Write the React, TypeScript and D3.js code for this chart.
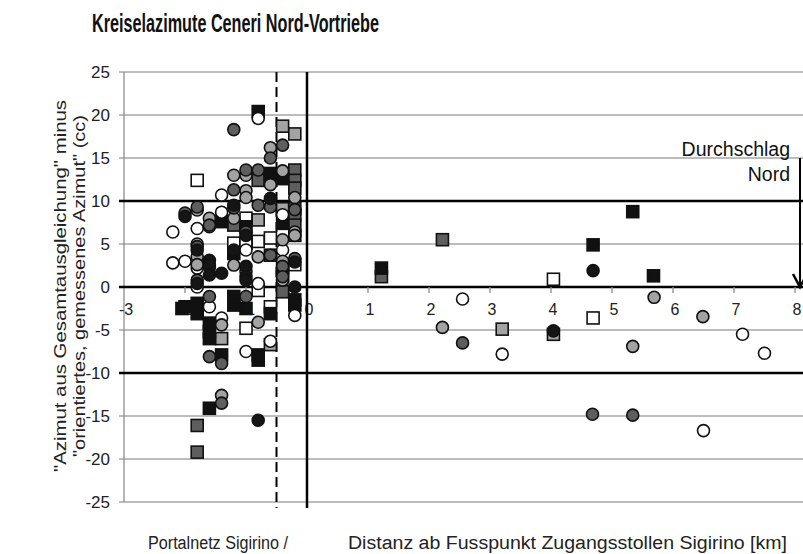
import React from "react";
import * as d3 from "d3";

type Pt = [number, number];

const xTicks = [-3, -2, -1, 0, 1, 2, 3, 4, 5, 6, 7, 8];
const yTicks = [25, 20, 15, 10, 5, 0, -5, -10, -15, -20, -25];
const thickY = [10, 0, -10];

const whiteCircles: Pt[] = [
  [-2.2, 6.4], [-2.2, 2.8], [-2.0, 3.0], [-1.8, 6.8], [-1.8, 2.2], [-1.8, 0.0],
  [-1.4, 8.7], [-1.4, 10.7], [-1.4, -3.6], [-1.6, -2.3], [-1.0, 4.3], [-1.0, -7.5],
  [-0.8, 19.6], [-0.8, 0.4], [-0.6, -6.3], [-0.4, 4.3], [-0.4, 8.4], [-0.2, -3.3],
  [2.55, -1.4], [3.2, -7.8], [7.14, -5.5], [7.5, -7.7], [6.5, -16.7],
];
const lightCircles: Pt[] = [
  [-1.8, 8.95], [-1.8, 5.0], [-1.8, 3.5], [-1.8, 2.6], [-1.6, 8.0], [-1.6, 7.0],
  [-1.6, 2.3], [-1.4, -4.4], [-1.4, -12.6], [-1.2, 8.0], [-1.2, 2.55], [-1.2, 13.0],
  [-1.0, 13.0], [-1.0, 11.2], [-1.0, 1.8], [-1.0, 10.4], [-0.8, 3.5], [-0.8, -4.1],
  [-0.6, 16.2], [-0.6, 11.9], [-0.4, 13.5], [-0.4, 5.5], [-0.4, 3.0], [-0.4, 0.8],
  [-0.2, 10.4], [-0.2, 6.4], [-0.2, 6.0],
  [2.22, -4.7], [5.69, -1.2], [6.49, -3.45], [5.34, -6.9],
];
const darkCircles: Pt[] = [
  [-2.0, 8.6], [-1.8, 9.3], [-1.8, 4.7], [-1.8, 0.8], [-1.6, -1.1], [-1.6, 7.2],
  [-1.6, -8.1], [-1.4, -8.9], [-1.4, -13.5], [-1.2, 18.3], [-1.2, 11.3], [-1.2, 9.2],
  [-1.0, 13.6], [-1.0, -1.1], [-1.0, 6.4], [-0.8, 13.6], [-0.8, 9.5], [-0.6, 15.0],
  [-0.6, 9.3], [-0.6, 3.7], [-0.4, 16.5], [-0.4, 2.4], [-0.4, 1.2], [-0.2, 3.3], [-0.2, 9.0],
  [2.55, -6.5], [4.68, -14.8], [5.34, -14.9],
];
const blackCircles: Pt[] = [
  [-2.0, 8.2], [-1.8, 0.4], [-1.8, 4.3], [-1.6, 3.1], [-1.6, 2.6], [-1.6, 1.4],
  [-1.4, 1.6], [-1.2, 4.3], [-1.2, 9.5], [-1.0, 2.4], [-1.0, 1.2], [-1.0, 0.8],
  [-1.0, 6.0], [-0.8, -15.5], [-0.6, 10.3], [-0.2, 0.0], [-0.2, 2.9],
  [4.69, 1.9], [4.04, -5.1],
];
const whiteSquares: Pt[] = [
  [-1.8, 12.4], [-1.2, 5.1], [-1.0, 8.0], [-1.0, 5.1], [-1.0, -4.8], [-0.8, 5.3],
  [-0.8, -0.4], [-0.6, 5.7], [-0.6, -2.3], [-0.2, 2.6],
  [4.04, 0.9], [4.69, -3.6],
];
const lightSquares: Pt[] = [
  [-0.4, 18.7], [-0.2, 17.8], [-0.8, 7.8], [-1.4, -6.0], [-0.6, -6.7], [-0.4, 9.1],
  [-0.4, -0.5],
  [3.2, -4.9], [4.04, -5.5],
];
const darkSquares: Pt[] = [
  [-0.8, 12.4], [-0.2, 13.6], [-0.2, 12.4], [-0.2, 11.5], [-0.2, 9.1], [-0.2, 8.4],
  [-0.2, 7.2], [-0.2, 6.0], [-1.2, 7.2], [-0.6, 3.7], [-0.4, 2.2], [-0.4, -0.55],
  [-1.8, -16.1], [-1.8, -19.2],
  [1.22, 1.2], [2.22, 5.5],
];
const blackSquares: Pt[] = [
  [-0.8, 20.4], [-0.6, 13.2], [-0.6, 12.4], [-0.4, 12.6], [-1.4, 7.6], [-1.0, 7.0],
  [-0.4, 7.4], [-0.4, 1.2], [-1.2, 3.9], [-2.05, -2.5], [-2.0, -2.3], [-1.8, -1.9],
  [-1.8, -3.1], [-1.2, -1.1], [-1.2, -2.1], [-1.0, -2.5], [-0.6, -3.1], [-0.2, -1.5],
  [-0.2, -2.1], [-1.6, -4.2], [-1.6, -5.2], [-1.6, -6.0], [-1.4, -7.9], [-0.8, -7.9],
  [-0.8, -8.5], [-1.6, -14.1],
  [1.22, 2.2], [4.69, 4.9], [5.34, 8.76], [5.68, 1.3],
];

const squareSeries = [
  { data: whiteSquares, fill: "#ffffff" },
  { data: lightSquares, fill: "#a3a3a3" },
  { data: darkSquares, fill: "#5e5e5e" },
  { data: blackSquares, fill: "#111111" },
];
const circleSeries = [
  { data: whiteCircles, fill: "#ffffff" },
  { data: lightCircles, fill: "#a3a3a3" },
  { data: darkCircles, fill: "#5e5e5e" },
  { data: blackCircles, fill: "#151515" },
];

const W = 803;
const H = 554;
const font = "'Liberation Sans', Arial, sans-serif";

export default function App() {
  const x = d3.scaleLinear().domain([-3, 8]).range([124, 795]);
  const y = d3.scaleLinear().domain([-25, 25]).range([502, 72]);
  const right = 803;

  return (
    <svg width={W} height={H} style={{ position: "absolute", left: 0, top: 0, background: "#fff" }}>
      <rect width={W} height={H} fill="#fff" />
      <text x={92} y={32} fontFamily={font} fontWeight="bold" fontSize={26} textLength={287}
        lengthAdjust="spacingAndGlyphs" fill="#111">Kreiselazimute Ceneri Nord-Vortriebe</text>

      {/* grid */}
      {yTicks.filter(t => !thickY.includes(t)).map(t => (
        <line key={t} x1={119} x2={right} y1={y(t)} y2={y(t)} stroke="#a6a6a6" strokeWidth={1.3} />
      ))}
      <line x1={124} x2={124} y1={y(25)} y2={y(-25)} stroke="#8c8c8c" strokeWidth={1.3} />
      {thickY.map(t => (
        <line key={t} x1={119} x2={right} y1={y(t)} y2={y(t)} stroke="#000" strokeWidth={2.5} />
      ))}
      {xTicks.filter(t => t !== 0 && t !== -3).map(t => (
        <line key={t} x1={x(t)} x2={x(t)} y1={y(0)} y2={y(0) + 6} stroke="#8c8c8c" strokeWidth={1.3} />
      ))}
      {yTicks.map(t => (
        <text key={t} x={110} y={y(t) + 6} textAnchor="end" fontFamily={font} fontSize={17} fill="#222">{t}</text>
      ))}
      {xTicks.map(t => (
        <text key={t} x={x(t) + 2} y={y(0) + 28} textAnchor="middle" fontFamily={font} fontSize={16} fill="#222">{t}</text>
      ))}

      {/* reference lines */}
      <line x1={x(-0.5)} x2={x(-0.5)} y1={y(25)} y2={508} stroke="#000" strokeWidth={2} strokeDasharray="10,5" />
      <line x1={x(0)} x2={x(0)} y1={y(25)} y2={508} stroke="#000" strokeWidth={2.5} />
      <line x1={800} x2={800} y1={y(15)} y2={y(0)} stroke="#000" strokeWidth={2} />
      <polyline points={`${793},${y(0) - 13} ${800},${y(0)} ${807},${y(0) - 13}`} fill="none" stroke="#000" strokeWidth={2.5} />
      <text x={790} y={156} textAnchor="end" fontFamily={font} fontSize={19.5} fill="#111">Durchschlag</text>
      <text x={790} y={181} textAnchor="end" fontFamily={font} fontSize={19.5} fill="#111">Nord</text>

      {/* markers */}
      {squareSeries.map((s, i) => (
        <g key={"s" + i}>
          {s.data.map((d, j) => (
            <rect key={j} x={x(d[0]) - 6} y={y(d[1]) - 6} width={12} height={12}
              fill={s.fill} stroke="#111" strokeWidth={1.6} />
          ))}
        </g>
      ))}
      {circleSeries.map((s, i) => (
        <g key={"c" + i}>
          {s.data.map((d, j) => (
            <circle key={j} cx={x(d[0])} cy={y(d[1])} r={6} fill={s.fill} stroke="#111" strokeWidth={1.6} />
          ))}
        </g>
      ))}

      {/* axis titles */}
      <g transform="translate(66,286) rotate(-90)">
        <text x={0} y={0} textAnchor="middle" fontFamily={font} fontSize={16} textLength={372}
          lengthAdjust="spacingAndGlyphs" fill="#222">"Azimut aus Gesamtausgleichung" minus</text>
        <text x={0} y={19} textAnchor="middle" fontFamily={font} fontSize={16} textLength={342}
          lengthAdjust="spacingAndGlyphs" fill="#222">"orientiertes, gemessenes Azimut" (cc)</text>
      </g>
      <text x={148} y={549} fontFamily={font} fontSize={18} textLength={140} lengthAdjust="spacingAndGlyphs" fill="#222">Portalnetz Sigirino /</text>
      <text x={348} y={549} fontFamily={font} fontSize={18} textLength={439} lengthAdjust="spacingAndGlyphs" fill="#222">Distanz ab Fusspunkt Zugangsstollen Sigirino [km]</text>
    </svg>
  );
}
